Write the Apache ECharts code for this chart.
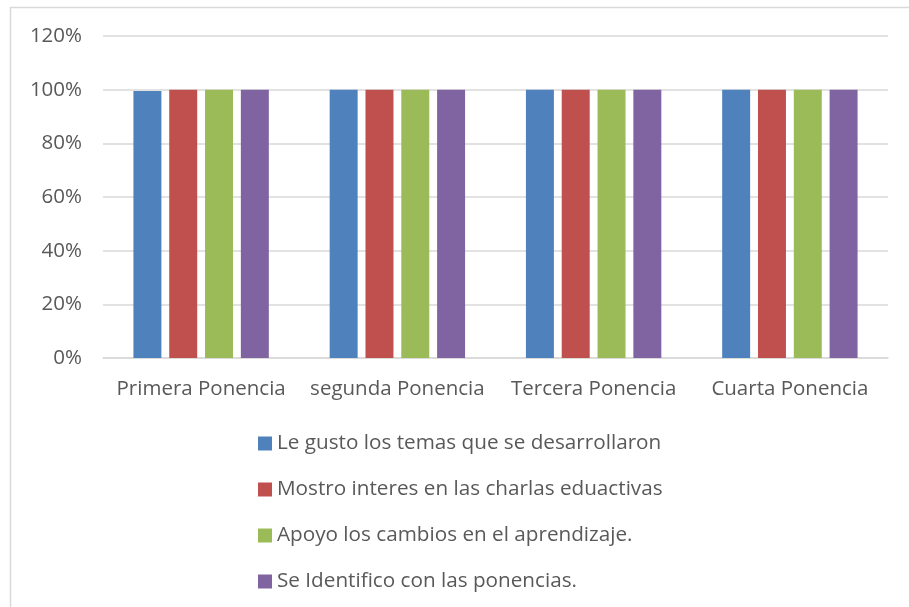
<!DOCTYPE html>
<html><head><meta charset="utf-8">
<script src="https://cdn.jsdelivr.net/npm/echarts@6/dist/echarts.min.js"></script>
<style>html,body{margin:0;padding:0;background:#fff}#c{width:909px;height:607px}</style>
</head><body><div id="c"></div>
<script>
const categories = ['Primera Ponencia', 'segunda Ponencia', 'Tercera Ponencia', 'Cuarta Ponencia'];
const seriesNames = ['Le gusto los temas que se desarrollaron', 'Mostro interes en las charlas eduactivas', 'Apoyo los cambios en el aprendizaje.', 'Se Identifico con las ponencias.'];
const s1 = [0.995, 1, 1, 1];
const s2 = [1, 1, 1, 1];
const s3 = [1, 1, 1, 1];
const s4 = [1, 1, 1, 1];
const colors = ['#4f81bd', '#c0504d', '#9bbb59', '#8064a2'];
const font = "'Open Sans', 'Liberation Sans', sans-serif";
const chart = echarts.init(document.getElementById('c'), null, {renderer: 'canvas'});
const data = [s1, s2, s3, s4];
chart.setOption({
  animation: false,
  graphic: [{type: 'rect', shape: {x: 10.5, y: 7.5, width: 1000, height: 1000}, style: {fill: 'none', stroke: '#d9d9d9', lineWidth: 1.5}, silent: true}],
  grid: {left: 103, right: 21, top: 36, bottom: 249},
  xAxis: {type: 'category', data: categories,
    axisLine: {lineStyle: {color: '#d9d9d9', width: 1.5}}, axisTick: {show: false},
    axisLabel: {interval: 0, hideOverlap: false, color: '#595959', fontFamily: font, fontSize: 20.5, margin: 21}},
  yAxis: {type: 'value', min: 0, max: 1.2, interval: 0.2,
    axisLine: {show: false}, axisTick: {show: false},
    splitLine: {lineStyle: {color: '#d9d9d9', width: 1.5}},
    axisLabel: {color: '#595959', fontFamily: font, fontSize: 20.5, margin: 21,
      formatter: v => Math.round(v * 100) + '%'}},
  legend: {orient: 'vertical', left: 253, top: 428, itemGap: 25, itemWidth: 14, itemHeight: 14,
    icon: 'rect', textStyle: {color: '#595959', fontFamily: font, fontSize: 20.7},
    data: seriesNames},
  series: seriesNames.map((n, i) => ({name: n, type: 'bar', data: data[i],
    barGap: '28%', barCategoryGap: '31%', itemStyle: {color: colors[i]}}))
});
</script></body></html>
